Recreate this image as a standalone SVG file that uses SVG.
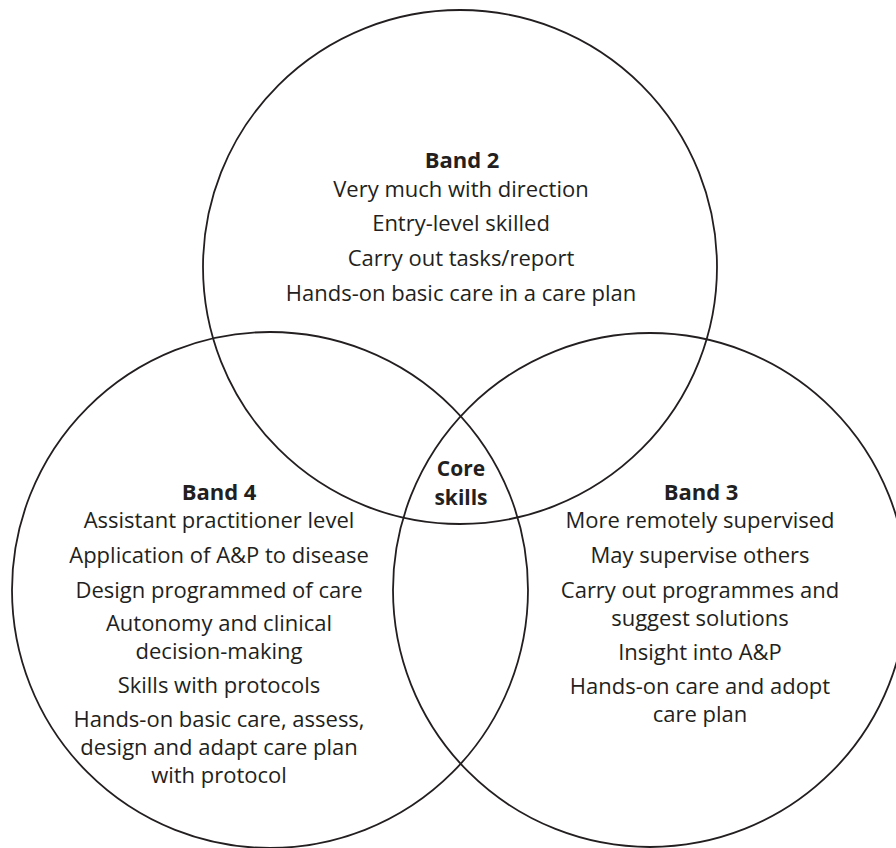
<svg xmlns="http://www.w3.org/2000/svg" width="896" height="848" viewBox="0 0 896 848">
  <style>
    .ring { fill: none; stroke: #231f20; stroke-width: 1.8; }
    text { font-family: "Open Sans", "Noto Sans", "Liberation Sans", sans-serif; font-size: 22px; fill: #231f20; text-anchor: middle; }
    .head { font-weight: bold; }
    .core { font-size: 21px; }
  </style>
  <rect width="896" height="848" fill="#ffffff"/>

  <g id="circles">
    <circle id="circle-band2" class="ring" cx="460" cy="267" r="257"/>
    <circle id="circle-band4" class="ring" cx="270" cy="590" r="258"/>
    <circle id="circle-band3" class="ring" cx="650" cy="590" r="257"/>
  </g>

  <g id="band2">
    <text class="head" x="462" y="168">Band 2</text>
    <text x="461" y="197">Very much with direction</text>
    <text x="461" y="231">Entry-level skilled</text>
    <text x="461" y="266">Carry out tasks/report</text>
    <text x="461" y="301">Hands-on basic care in a care plan</text>
  </g>

  <g id="core">
    <text class="head core" x="461" y="476">Core</text>
    <text class="head core" x="461" y="505">skills</text>
  </g>

  <g id="band4">
    <text class="head" x="219" y="500">Band 4</text>
    <text x="219" y="528">Assistant practitioner level</text>
    <text x="219" y="563">Application of A&amp;P to disease</text>
    <text x="219" y="598">Design programmed of care</text>
    <text x="219" y="631">Autonomy and clinical</text>
    <text x="219" y="659">decision-making</text>
    <text x="219" y="693">Skills with protocols</text>
    <text x="219" y="727">Hands-on basic care, assess,</text>
    <text x="219" y="755">design and adapt care plan</text>
    <text x="219" y="783">with protocol</text>
  </g>

  <g id="band3">
    <text class="head" x="701" y="500">Band 3</text>
    <text x="700" y="528">More remotely supervised</text>
    <text x="700" y="563">May supervise others</text>
    <text x="700" y="598">Carry out programmes and</text>
    <text x="700" y="626">suggest solutions</text>
    <text x="700" y="660">Insight into A&amp;P</text>
    <text x="700" y="694">Hands-on care and adopt</text>
    <text x="700" y="722">care plan</text>
  </g>
</svg>
